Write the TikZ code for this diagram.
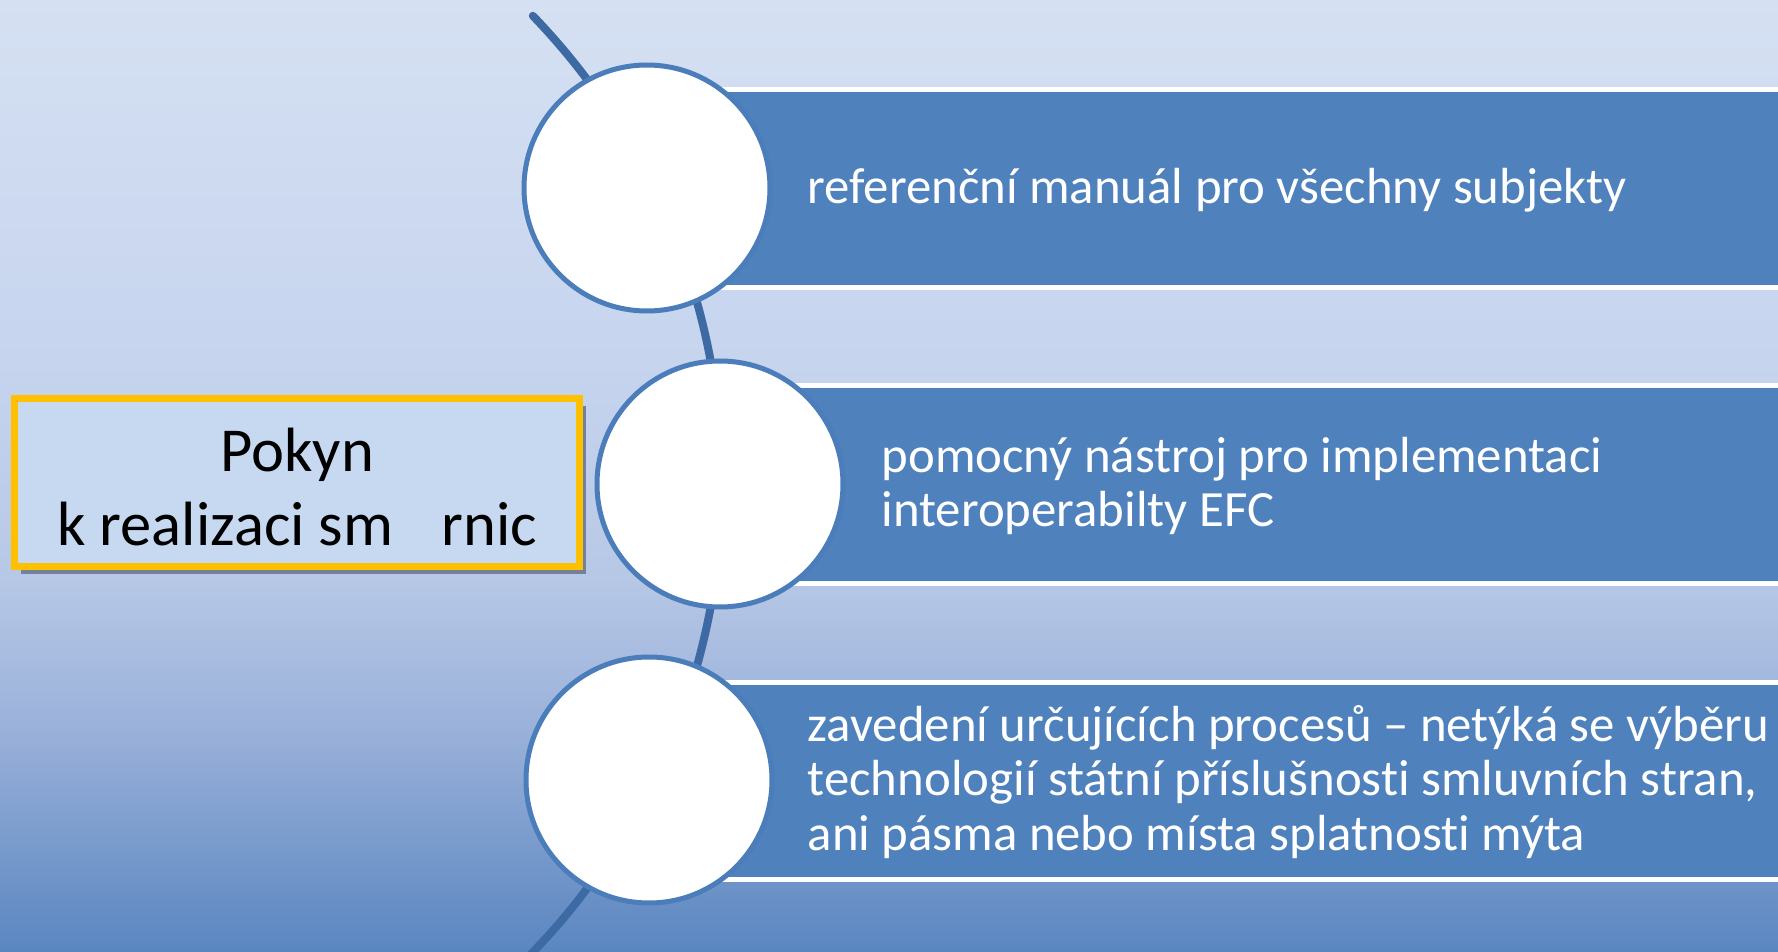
\documentclass[tikz,border=0pt]{standalone}
\usepackage{fontspec}
\setmainfont{Carlito}[Ligatures=NoCommon]
\usetikzlibrary{shadows}
\definecolor{bgtop}{HTML}{D5E0F2}
\definecolor{bgupper}{HTML}{C6D4EE}
\definecolor{bgmid}{HTML}{B7C8E6}
\definecolor{bglower}{HTML}{9AB1DA}
\definecolor{bgbot}{HTML}{5A86C0}
\definecolor{barblue}{HTML}{4F81BD}
\definecolor{rimblue}{HTML}{4A7DBA}
\definecolor{arcblue}{HTML}{3D6AA3}
\definecolor{boxfill}{HTML}{C6D9F1}
\definecolor{boxrim}{HTML}{FFC000}
\definecolor{boxshade}{HTML}{74819C}
\pgfdeclareverticalshading{bgfade}{100bp}{color(0bp)=(bgbot); color(25bp)=(bgbot); color(36.7bp)=(bglower); color(44.7bp)=(bgmid); color(55.9bp)=(bgupper); color(75bp)=(bgtop); color(100bp)=(bgtop)}
\begin{document}
\begin{tikzpicture}
[x=0.1mm, y=-0.1mm,
bar/.style={rectangle, draw=white, fill=barblue, line width=0.5mm, inner sep=0pt, minimum width=115mm, minimum height=19.8mm},
disc/.style={circle, draw=rimblue, fill=white, line width=0.5mm, inner sep=0pt, minimum size=24.6mm},
itemtext/.style={anchor=west, align=left, inner sep=0pt, text=white, font=\fontsize{14.45pt}{15.4pt}\selectfont},
title/.style={rectangle, draw=boxrim, fill=boxfill, line width=0.7mm, inner sep=0pt, minimum width=56.5mm, minimum height=16.8mm,
  drop shadow={shadow xshift=0.65mm, shadow yshift=-0.75mm, fill=boxshade, opacity=1}},
titletext/.style={align=center, inner sep=0pt, font=\fontsize{17.8pt}{21pt}\selectfont},
arcline/.style={draw=arcblue, line width=0.8mm, line cap=round}]

\useasboundingbox (0,0) rectangle (1778,952);
\clip (0,0) rectangle (1778,952);
\shade[shading=bgfade] (0,0) rectangle (1778,952);

\coordinate (hub) at (48,484);
\draw[arcline] (hub) ++(-44:674) arc[start angle=-44, end angle=50, radius=674];

\node[bar] (bar1) at (1225,189) {};
\node[bar] (bar2) at (1225,485) {};
\node[bar] (bar3) at (1225,781) {};

\node[disc] (disc1) at (647,188) {};
\node[disc] (disc2) at (720,484) {};
\node[disc] (disc3) at (649,780) {};

\node[itemtext] (item1) at (807,190) {referenční manuál pro všechny subjekty};
\node[itemtext] (item2) at (881,486) {pomocný nástroj pro implementaci\\interoperabilty EFC};
\node[itemtext] (item3) at (807,782) {zavedení určujících procesů – netýká se výběru\\technologií státní příslušnosti smluvních stran,\\ani pásma nebo místa splatnosti mýta};

\node[title] (pokyn) at (297,482.5) {};
\node[titletext] (pokyntext) at (297,487) {Pokyn\\k realizaci sm\hspace{4.8mm}rnic};
\end{tikzpicture}
\end{document}
